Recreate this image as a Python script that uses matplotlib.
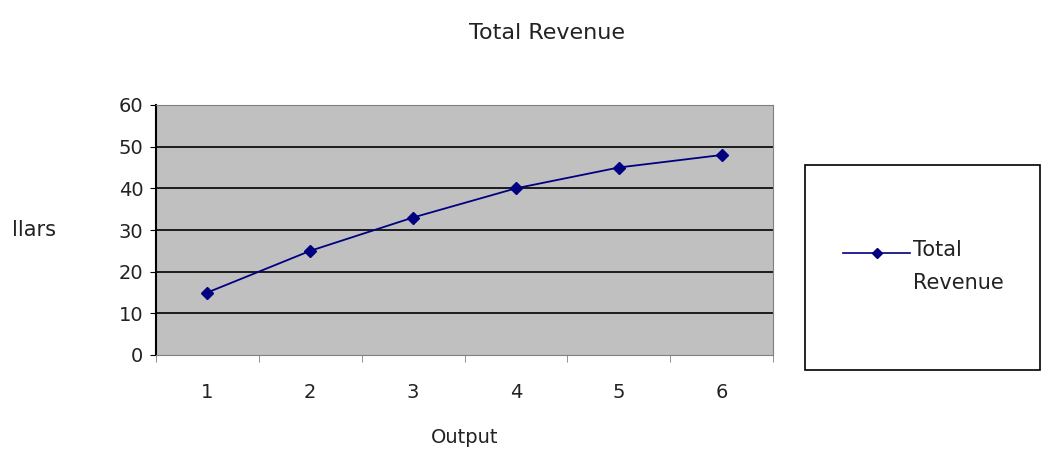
import matplotlib
matplotlib.use("Agg")
import matplotlib.pyplot as plt
from matplotlib.patches import Rectangle
from matplotlib.lines import Line2D
import numpy as np

output = [1, 2, 3, 4, 5, 6]
revenue = [15, 25, 33, 40, 45, 48]
series_name = ["Total", "Revenue"]

plt.rcParams["font.family"] = ["DejaVu Sans"]
W, H = 1044, 453

fig = plt.figure(figsize=(10.44, 4.53), dpi=100)
ax = fig.add_axes([156 / W, (H - 355) / H, 617 / W, 250 / H])
ax.set_facecolor("#c0c0c0")

x = np.arange(len(output))
ax.plot(x, revenue, color="#000080", marker="D", markersize=6, linewidth=1.3, zorder=3)

ax.set_xlim(-0.5, len(output) - 0.5)
ax.set_ylim(0, 60)
ax.set_yticks(range(0, 61, 10))
ax.set_xticks(x)
ax.set_xticklabels([str(v) for v in output])
ax.set_xticks(np.arange(len(output) + 1) - 0.5, minor=True)
ax.tick_params(axis="x", which="major", length=0, pad=20, labelsize=14, labelcolor="#222222")
ax.tick_params(axis="x", which="minor", length=5, color="#808080", direction="out")
ax.tick_params(axis="y", length=4, direction="out", pad=5, labelsize=14, labelcolor="#222222")
for yv in range(10, 60, 10):
    ax.axhline(yv, color="black", linewidth=1.2, zorder=1)

for s in ["top", "right", "bottom"]:
    ax.spines[s].set_color("#808080")
ax.spines["left"].set_color("black")
ax.spines["left"].set_linewidth(1.5)

ax.set_xlabel("Output", fontsize=14, labelpad=19, color="#222222")
fig.text(0.524, 0.927, "Total Revenue", ha="center", va="center", fontsize=16, color="#222222")
fig.text(12 / W, 1 - 230 / H, "llars", ha="left", va="center", fontsize=15, color="#222222")

# legend box, drawn by hand like the spreadsheet legend
fig.patches.append(Rectangle((805 / W, (H - 370) / H), 235 / W, 205 / H,
                             transform=fig.transFigure, facecolor="white",
                             edgecolor="black", linewidth=1.2))
fig.add_artist(Line2D([843 / W, 910 / W], [1 - 253 / H, 1 - 253 / H],
                      transform=fig.transFigure, color="#000080", linewidth=1.2))
fig.add_artist(Line2D([876.5 / W], [1 - 253 / H], transform=fig.transFigure,
                      color="#000080", marker="D", markersize=5, linestyle="none"))
fig.text(913 / W, 1 - 250 / H, series_name[0], ha="left", va="center",
         fontsize=15, color="#222222")
fig.text(913 / W, 1 - 283 / H, series_name[1], ha="left", va="center",
         fontsize=15, color="#222222")

fig.savefig("out.png", dpi=100)
